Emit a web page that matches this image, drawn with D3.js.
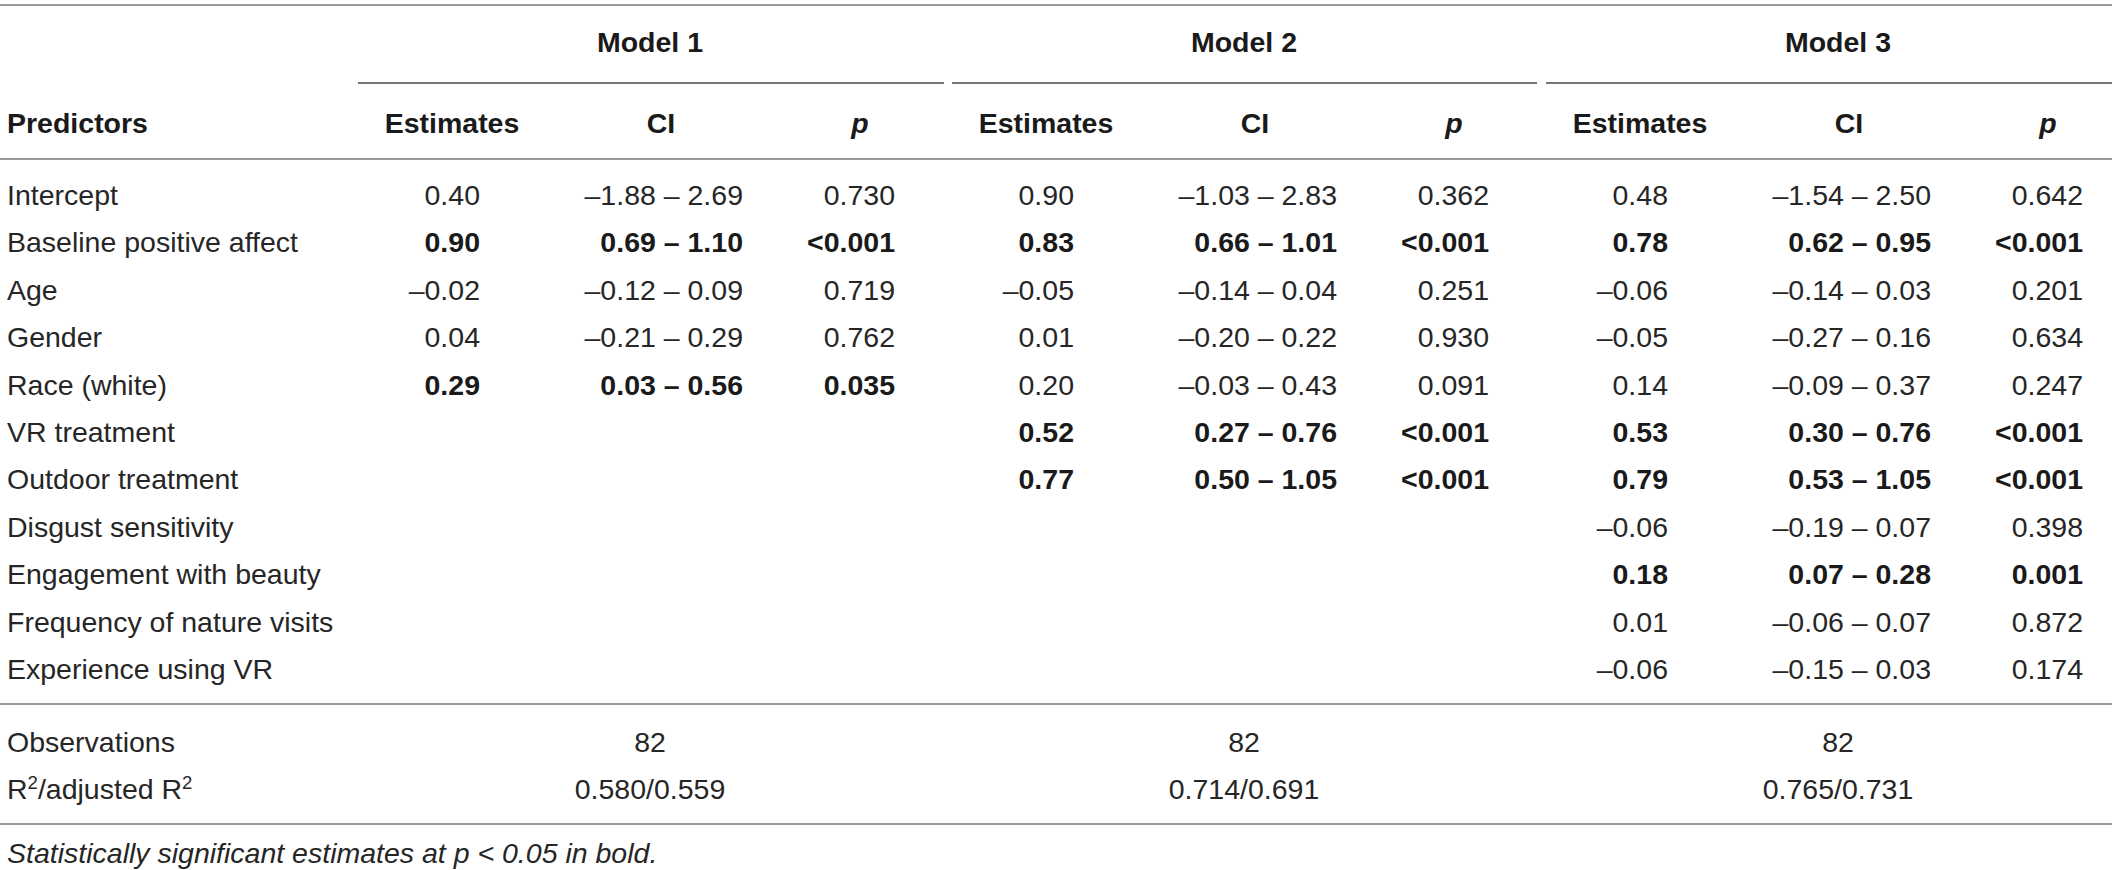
<!DOCTYPE html>
<html>
<head>
<meta charset="utf-8">
<script src="https://cdn.jsdelivr.net/npm/d3@7/dist/d3.min.js"></script>
<style>
html,body{margin:0;padding:0;background:#fff;}
svg{display:block;}
text{font-family:"Liberation Sans",Arial,Helvetica,sans-serif;}
</style>
</head>
<body>
<svg id="chart" width="2118" height="870"></svg>
<script>
// ---- data ----
const models = ["Model 1", "Model 2", "Model 3"];
const columns = ["Estimates", "CI", "p"];
const predictors = ["Intercept", "Baseline positive affect", "Age", "Gender", "Race (white)",
  "VR treatment", "Outdoor treatment", "Disgust sensitivity", "Engagement with beauty",
  "Frequency of nature visits", "Experience using VR"];

const est1 = [0.40, 0.90, -0.02, 0.04, 0.29, null, null, null, null, null, null];
const ciLo1 = [-1.88, 0.69, -0.12, -0.21, 0.03, null, null, null, null, null, null];
const ciHi1 = [2.69, 1.10, 0.09, 0.29, 0.56, null, null, null, null, null, null];
const p1 = ["0.730", "<0.001", "0.719", "0.762", "0.035", null, null, null, null, null, null];

const est2 = [0.90, 0.83, -0.05, 0.01, 0.20, 0.52, 0.77, null, null, null, null];
const ciLo2 = [-1.03, 0.66, -0.14, -0.20, -0.03, 0.27, 0.50, null, null, null, null];
const ciHi2 = [2.83, 1.01, 0.04, 0.22, 0.43, 0.76, 1.05, null, null, null, null];
const p2 = ["0.362", "<0.001", "0.251", "0.930", "0.091", "<0.001", "<0.001", null, null, null, null];

const est3 = [0.48, 0.78, -0.06, -0.05, 0.14, 0.53, 0.79, -0.06, 0.18, 0.01, -0.06];
const ciLo3 = [-1.54, 0.62, -0.14, -0.27, -0.09, 0.30, 0.53, -0.19, 0.07, -0.06, -0.15];
const ciHi3 = [2.50, 0.95, 0.03, 0.16, 0.37, 0.76, 1.05, 0.07, 0.28, 0.07, 0.03];
const p3 = ["0.642", "<0.001", "0.201", "0.634", "0.247", "<0.001", "<0.001", "0.398", "0.001", "0.872", "0.174"];

const observations = [82, 82, 82];
const r2 = [0.580, 0.714, 0.765];
const adjR2 = [0.559, 0.691, 0.731];
const footnote = "Statistically significant estimates at p < 0.05 in bold.";

// ---- build table ----
const modelData = [
  {est: est1, lo: ciLo1, hi: ciHi1, p: p1},
  {est: est2, lo: ciLo2, hi: ciHi2, p: p2},
  {est: est3, lo: ciLo3, hi: ciHi3, p: p3}
];

const FS = 28.5;
const svg = d3.select("#chart");

const f2 = d3.format(".2f"), f3 = d3.format(".3f");
const fmt = v => f2(v).replace("-", "\u2013").replace("\u2212", "\u2013");
const sig = p => p != null && (p.startsWith("<") || parseFloat(p) < 0.05);

// scales
const yRow = d3.scalePoint().domain(predictors).range([195, 669]);
const xModel = d3.scalePoint().domain(models).range([0, 1188]); // model offset
const colRight = {Estimates: 480, CI: 743, p: 895};
const colHead = {Estimates: 452, CI: 661, p: 860};
const modelCenter = 650;
const underline = [[358, 944], [952, 1537], [1546, 2112]];

const lineColor = "#9a9a9a";
const textColor = "#262626";
const boldColor = "#1a1a1a";

// horizontal rules
const rules = [5, 159, 704, 824];
svg.selectAll("line.rule").data(rules).join("line")
  .attr("class", "rule")
  .attr("x1", 0).attr("x2", 2112)
  .attr("y1", d => d).attr("y2", d => d)
  .attr("stroke", lineColor).attr("stroke-width", 2);

svg.selectAll("line.under").data(underline).join("line")
  .attr("class", "under")
  .attr("x1", d => d[0]).attr("x2", d => d[1])
  .attr("y1", 83).attr("y2", 83)
  .attr("stroke", "#767676").attr("stroke-width", 2);

// model titles
svg.selectAll("text.model").data(models).join("text")
  .attr("class", "model")
  .attr("x", d => modelCenter + xModel(d)).attr("y", 42).attr("dy", "0.35em")
  .attr("text-anchor", "middle").attr("font-size", FS).attr("font-weight", "bold")
  .attr("fill", boldColor).text(d => d);

// column headers
svg.append("text").attr("x", 7).attr("y", 123).attr("dy", "0.35em")
  .attr("font-size", FS).attr("font-weight", "bold").attr("fill", boldColor).text("Predictors");

models.forEach(m => {
  columns.forEach(c => {
    svg.append("text")
      .attr("x", colHead[c] + xModel(m)).attr("y", 123).attr("dy", "0.35em")
      .attr("text-anchor", "middle").attr("font-size", FS).attr("font-weight", "bold")
      .attr("font-style", c === "p" ? "italic" : "normal")
      .attr("fill", boldColor).text(c);
  });
});

// predictor names
svg.selectAll("text.pred").data(predictors).join("text")
  .attr("class", "pred")
  .attr("x", 7).attr("y", d => yRow(d)).attr("dy", "0.35em")
  .attr("font-size", FS).attr("fill", textColor).text(d => d);

// cells
models.forEach((m, mi) => {
  const md = modelData[mi];
  const cells = [];
  predictors.forEach((pr, i) => {
    if (md.est[i] == null) return;
    const b = sig(md.p[i]);
    cells.push({pr, col: "Estimates", t: fmt(md.est[i]), b});
    cells.push({pr, col: "CI", t: fmt(md.lo[i]) + " \u2013 " + fmt(md.hi[i]), b});
    cells.push({pr, col: "p", t: md.p[i], b});
  });
  svg.append("g").selectAll("text").data(cells).join("text")
    .attr("x", d => colRight[d.col] + xModel(m))
    .attr("y", d => yRow(d.pr)).attr("dy", "0.35em")
    .attr("text-anchor", "end").attr("font-size", FS)
    .attr("font-weight", d => d.b ? "bold" : "normal")
    .attr("fill", d => d.b ? boldColor : textColor).text(d => d.t);
});

// summary rows
svg.append("text").attr("x", 7).attr("y", 742).attr("dy", "0.35em")
  .attr("font-size", FS).attr("fill", textColor).text("Observations");
const r2Label = svg.append("text").attr("x", 7).attr("y", 789).attr("dy", "0.35em")
  .attr("font-size", FS).attr("fill", textColor);
r2Label.append("tspan").text("R");
r2Label.append("tspan").attr("font-size", FS * 0.65).attr("dy", "-0.55em").text("2");
r2Label.append("tspan").attr("dy", "0.36em").text("/adjusted R");
r2Label.append("tspan").attr("font-size", FS * 0.65).attr("dy", "-0.55em").text("2");

svg.selectAll("text.obs").data(observations).join("text")
  .attr("class", "obs")
  .attr("x", (d, i) => modelCenter + xModel(models[i])).attr("y", 742).attr("dy", "0.35em")
  .attr("text-anchor", "middle").attr("font-size", FS).attr("fill", textColor).text(d => d);

svg.selectAll("text.r2").data(r2).join("text")
  .attr("class", "r2")
  .attr("x", (d, i) => modelCenter + xModel(models[i])).attr("y", 789).attr("dy", "0.35em")
  .attr("text-anchor", "middle").attr("font-size", FS).attr("fill", textColor)
  .text((d, i) => f3(d) + "/" + f3(adjR2[i]));

// footnote
svg.append("text").attr("x", 7).attr("y", 853).attr("dy", "0.35em")
  .attr("font-size", FS).attr("font-style", "italic").attr("fill", textColor)
  .text(footnote);
</script>
</body>
</html>
